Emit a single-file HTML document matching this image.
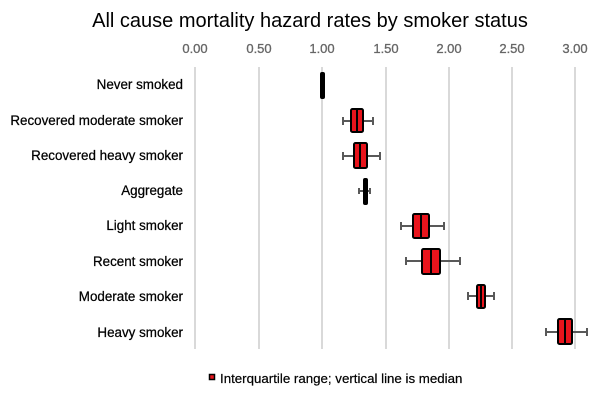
<!DOCTYPE html>
<html><head><style>html,body{margin:0;padding:0;background:#fff}</style></head><body>
<svg width="600" height="400" xmlns="http://www.w3.org/2000/svg" font-family="Liberation Sans, sans-serif">
<text x="310" y="27" font-size="20" text-anchor="middle" fill="#000">All cause mortality hazard rates by smoker status</text>
<g font-size="13" fill="#666" stroke="#666" stroke-width="0.3" text-anchor="middle">
<text x="195" y="53">0.00</text><text x="259" y="53">0.50</text><text x="322" y="53">1.00</text><text x="386" y="53">1.50</text><text x="449" y="53">2.00</text><text x="512" y="53">2.50</text><text x="575" y="53">3.00</text>
</g>
<g stroke="#d9d9d9" stroke-width="2">
<line x1="195" y1="67" x2="195" y2="349"/><line x1="259" y1="67" x2="259" y2="349"/><line x1="322" y1="67" x2="322" y2="349"/><line x1="386" y1="67" x2="386" y2="349"/><line x1="449" y1="67" x2="449" y2="349"/><line x1="512" y1="67" x2="512" y2="349"/><line x1="575" y1="67" x2="575" y2="349"/>
</g>
<g font-size="13.4" fill="#000" stroke="#000" stroke-width="0.25" text-anchor="end">
<text x="183" y="89">Never smoked</text>
<text x="183" y="125">Recovered moderate smoker</text>
<text x="183" y="160">Recovered heavy smoker</text>
<text x="183" y="195">Aggregate</text>
<text x="183" y="230">Light smoker</text>
<text x="183" y="266">Recent smoker</text>
<text x="183" y="301">Moderate smoker</text>
<text x="183" y="337">Heavy smoker</text>
</g>
<g stroke="#595959" stroke-width="2">
<line x1="343" y1="121" x2="373" y2="121"/><line x1="343" y1="117" x2="343" y2="125"/><line x1="373" y1="117" x2="373" y2="125"/>
<line x1="343" y1="156" x2="380" y2="156"/><line x1="343" y1="152" x2="343" y2="160"/><line x1="380" y1="152" x2="380" y2="160"/>
<line x1="359" y1="191" x2="370" y2="191"/><line x1="359" y1="188" x2="359" y2="194"/><line x1="370" y1="188" x2="370" y2="194"/>
<line x1="401" y1="226" x2="444" y2="226"/><line x1="401" y1="222" x2="401" y2="230"/><line x1="444" y1="222" x2="444" y2="230"/>
<line x1="406" y1="261" x2="460" y2="261"/><line x1="406" y1="257" x2="406" y2="265"/><line x1="460" y1="257" x2="460" y2="265"/>
<line x1="468" y1="296" x2="494" y2="296"/><line x1="468" y1="292" x2="468" y2="300"/><line x1="494" y1="292" x2="494" y2="300"/>
<line x1="546" y1="332" x2="587" y2="332"/><line x1="546" y1="328" x2="546" y2="336"/><line x1="587" y1="328" x2="587" y2="336"/>
</g>
<g fill="#e8141c" stroke="#000" stroke-width="2">
<rect x="321" y="73" width="3" height="25" fill="#000" rx="1"/>
<rect x="351" y="109" width="12" height="23" rx="1.5"/>
<rect x="354" y="143" width="13" height="25" rx="1.5"/>
<rect x="364" y="179" width="3" height="25" fill="#000" rx="1"/>
<rect x="413" y="214" width="16" height="24" rx="1.5"/>
<rect x="422" y="249" width="18" height="25" rx="1.5"/>
<rect x="477" y="285" width="8" height="23" rx="1.5"/>
<rect x="558" y="319" width="14" height="25" rx="1.5"/>
</g>
<g stroke="#000" stroke-width="2">
<line x1="357" y1="109" x2="357" y2="132"/><line x1="360" y1="143" x2="360" y2="168"/><line x1="421" y1="214" x2="421" y2="238"/><line x1="431" y1="249" x2="431" y2="274"/><line x1="481" y1="285" x2="481" y2="308"/><line x1="565" y1="319" x2="565" y2="344"/>
</g>
<rect x="209.5" y="374.5" width="5" height="5" fill="#e8141c" stroke="#000" stroke-width="1.5"/>
<text x="220" y="383" font-size="13.3" fill="#000" stroke="#000" stroke-width="0.2">Interquartile range; vertical line is median</text>
</svg>
</body></html>
